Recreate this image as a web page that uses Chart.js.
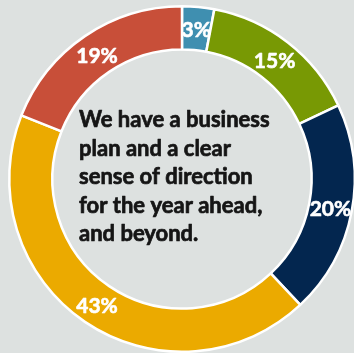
<!DOCTYPE html>
<html>
<head>
<meta charset="utf-8">
<script src="https://cdn.jsdelivr.net/npm/chart.js@4/dist/chart.umd.min.js"></script>
<style>
  html, body { margin: 0; padding: 0; width: 354px; height: 353px; overflow: hidden; background: #dde1e0; }
  #wrap { position: absolute; left: 0; top: 0; width: 364px; height: 358px; }
</style>
</head>
<body>
<div id="wrap"><canvas id="c" width="364" height="358"></canvas></div>
<script>
// Share of responses, clockwise from 12 o'clock
const categories = ['Strongly disagree', 'Disagree', 'Neutral', 'Agree', 'Strongly agree'];
const shares = [3, 15, 20, 43, 19];
const sliceColors = ['#3f8fb0', '#789904', '#03264f', '#ebaa00', '#c84f39'];
const centerLines = ['We have a business', 'plan and a clear', 'sense of direction', 'for the year ahead,', 'and beyond.'];

// Heavier bold: fill plus a thin stroke in the same colour
function boldText(ctx, text, x, y, weight) {
  ctx.lineWidth = weight;
  ctx.lineJoin = 'round';
  ctx.strokeText(text, x, y);
  ctx.fillText(text, x, y);
}

const sliceLabels = {
  id: 'sliceLabels',
  afterDatasetsDraw(chart) {
    const ctx = chart.ctx;
    const meta = chart.getDatasetMeta(0);
    ctx.save();
    ctx.fillStyle = '#ffffff';
    ctx.strokeStyle = '#ffffff';
    ctx.font = 'bold 21px Lato, sans-serif';
    ctx.textAlign = 'center';
    ctx.textBaseline = 'middle';
    meta.data.forEach((arc, i) => {
      const p = arc.tooltipPosition();
      boldText(ctx, shares[i] + '%', p.x, p.y + 2, 0.6);
    });
    ctx.restore();
  }
};

const centerText = {
  id: 'centerText',
  afterDraw(chart) {
    const ctx = chart.ctx;
    const arc = chart.getDatasetMeta(0).data[0];
    ctx.save();
    ctx.fillStyle = '#151515';
    ctx.strokeStyle = '#151515';
    ctx.font = 'bold 22px Lato, sans-serif';
    ctx.textAlign = 'left';
    ctx.textBaseline = 'middle';
    const x0 = arc.x - 103;
    const y0 = arc.y - 59;
    centerLines.forEach((line, i) => boldText(ctx, line, x0, y0 + i * 28.5, 0.7));
    ctx.restore();
  }
};

new Chart(document.getElementById('c'), {
  type: 'doughnut',
  data: {
    labels: categories,
    datasets: [{
      data: shares,
      backgroundColor: sliceColors,
      borderColor: '#ffffff',
      borderWidth: 2.5
    }]
  },
  options: {
    responsive: false,
    animation: false,
    cutout: '75%',
    rotation: 0,
    layout: { padding: 5 },
    plugins: { legend: { display: false }, tooltip: { enabled: false } }
  },
  plugins: [sliceLabels, centerText]
});
</script>
</body>
</html>
